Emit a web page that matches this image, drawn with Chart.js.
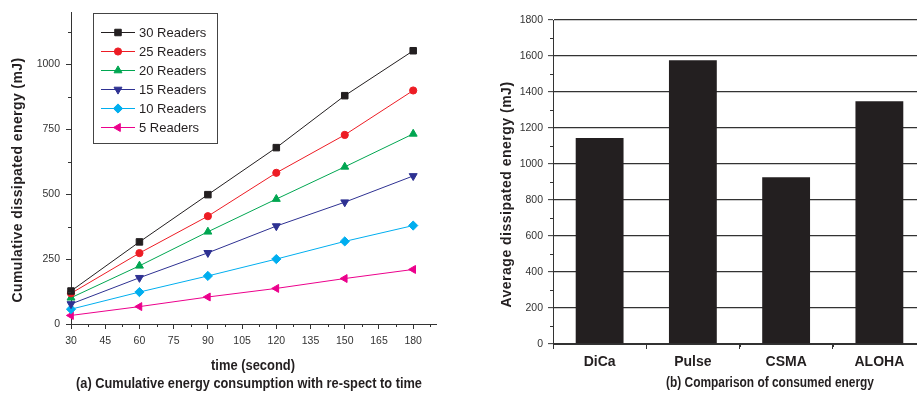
<!DOCTYPE html>
<html><head><meta charset="utf-8">
<script src="https://cdn.jsdelivr.net/npm/chart.js@4/dist/chart.umd.min.js"></script>
<style>
html,body{margin:0;padding:0;background:#fff;overflow:hidden;width:917px;height:396px;}
#wa{position:absolute;left:0;top:0;width:460px;height:396px;}
#wb{position:absolute;left:480px;top:0;width:460px;height:396px;}
</style></head><body>
<div id="wa"><canvas id="ca"></canvas></div>
<div id="wb"><canvas id="cb"></canvas></div>
<script>
// ---------- data (a) ----------
const TIMES = [30, 60, 90, 120, 150, 180];
const READERS_30 = [127, 316, 498, 679, 879, 1052];
const READERS_25 = [118, 273, 415, 582, 728, 899];
const READERS_20 = [101, 224, 355, 481, 605, 732];
const READERS_15 = [77, 178, 274, 377, 469, 570];
const READERS_10 = [57, 123, 185, 250, 318, 379];
const READERS_5  = [33, 67, 104, 137, 175, 210];
const SERIES_NAMES = ['30 Readers', '25 Readers', '20 Readers', '15 Readers', '10 Readers', '5 Readers'];
const X_TICKS_A = [30, 45, 60, 75, 90, 105, 120, 135, 150, 165, 180];
const X_MINOR_A = [37.5, 52.5, 67.5, 82.5, 97.5, 112.5, 127.5, 142.5, 157.5, 172.5, 187.5];
const Y_TICKS_A = [0, 250, 500, 750, 1000];
const Y_MINOR_A = [125, 375, 625, 875, 1125];
// ---------- data (b) ----------
const PROTOCOLS = ['DiCa', 'Pulse', 'CSMA', 'ALOHA'];
const AVG_ENERGY = [1144, 1576, 927, 1348];
const Y_TICKS_B = [0, 200, 400, 600, 800, 1000, 1200, 1400, 1600, 1800];
const Y_MINOR_B = [100, 300, 500, 700, 900, 1100, 1300, 1500, 1700];
const X_MINOR_B = [0.5, 1.5, 2.5];

const FONT = "'Liberation Sans', Arial, Helvetica, sans-serif";
Chart.defaults.font.family = FONT;
Chart.defaults.color = '#333';
const AX = '#333';
const plain = v => String(v);

function textsPlugin(id, items) {
  return { id: id, afterDraw(chart) {
    const ctx = chart.ctx;
    items.forEach(t => {
      ctx.save();
      ctx.font = t.font; ctx.fillStyle = t.color || '#231f20';
      ctx.textAlign = 'center'; ctx.textBaseline = 'middle';
      if ('letterSpacing' in ctx) ctx.letterSpacing = t.spacing || '0px';
      ctx.translate(t.x, t.y); if (t.rot) ctx.rotate(t.rot);
      if (t.maxWidth) ctx.fillText(t.text, 0, 0, t.maxWidth); else ctx.fillText(t.text, 0, 0);
      ctx.restore();
    });
  }};
}
function minorPlugin(id, axisId, values, len) {
  return { id: id, afterDraw(chart) {
    const s = chart.scales[axisId], ctx = chart.ctx;
    ctx.save(); ctx.strokeStyle = AX; ctx.lineWidth = 1; ctx.beginPath();
    values.forEach(v => {
      const p = Math.round(s.getPixelForValue(v)) + 0.5;
      if (s.isHorizontal()) { ctx.moveTo(p, s.top); ctx.lineTo(p, s.top + len); }
      else { ctx.moveTo(s.right, p); ctx.lineTo(s.right - len, p); }
    });
    ctx.stroke(); ctx.restore();
  }};
}
function drawMarker(ctx, style, rotation, r, x, y) {
  if (Chart.helpers && Chart.helpers.drawPoint) {
    Chart.helpers.drawPoint(ctx, {pointStyle: style, rotation: rotation, radius: r, borderWidth: 1}, x, y);
    return;
  }
  ctx.beginPath(); ctx.arc(x, y, r, 0, Math.PI * 2); ctx.fill(); ctx.stroke();
}
const legendPlugin = { id: 'boxLegend', afterDraw(chart) {
  const ctx = chart.ctx;
  ctx.save();
  ctx.fillStyle = '#fff';
  ctx.fillRect(93, 13, 125, 131);
  ctx.strokeStyle = '#444'; ctx.lineWidth = 1;
  ctx.strokeRect(93.5, 13.5, 124, 130);
  chart.data.datasets.forEach((ds, i) => {
    const y = 32 + 19 * i;
    ctx.strokeStyle = ds.borderColor; ctx.fillStyle = ds.borderColor; ctx.lineWidth = 1;
    ctx.beginPath(); ctx.moveTo(101, y + 0.5); ctx.lineTo(135, y + 0.5); ctx.stroke();
    drawMarker(ctx, ds.pointStyle, ds.pointRotation || 0, ds.pointRadius, 118, y + 0.5);
    ctx.fillStyle = '#231f20'; ctx.font = '13px ' + FONT;
    ctx.textAlign = 'left'; ctx.textBaseline = 'middle';
    ctx.fillText(ds.label, 139, y + 1);
  });
  ctx.restore();
}};

const SERIES = [READERS_30, READERS_25, READERS_20, READERS_15, READERS_10, READERS_5];
const COLORS = ['#231f20', '#ed1c24', '#00a651', '#2e3192', '#00aeef', '#ec008c'];
const STYLES = [['rect', 0, 4.6], ['circle', 0, 3.6], ['triangle', 0, 4.6], ['triangle', 180, 4.6], ['rectRot', 0, 4.6], ['triangle', 270, 4.6]];

new Chart(document.getElementById('ca'), {
  type: 'line',
  data: {
    datasets: SERIES.map((vals, i) => ({
      label: SERIES_NAMES[i],
      data: vals.map((v, j) => ({x: TIMES[j], y: v})),
      borderColor: COLORS[i], backgroundColor: COLORS[i],
      pointBackgroundColor: COLORS[i], pointBorderColor: COLORS[i],
      borderWidth: 1, pointBorderWidth: 1,
      pointStyle: STYLES[i][0], pointRotation: STYLES[i][1], pointRadius: STYLES[i][2],
      tension: 0, fill: false, clip: false
    }))
  },
  options: {
    responsive: true, maintainAspectRatio: false, animation: false, events: [],
    layout: {padding: {top: 8, right: 24, left: 0, bottom: 0}},
    plugins: {legend: {display: false}, tooltip: {enabled: false}},
    scales: {
      x: {
        type: 'linear', min: 30, max: 190,
        afterBuildTicks: s => { s.ticks = X_TICKS_A.map(v => ({value: v})); },
        afterFit: s => { s.height = 72; },
        grid: {drawOnChartArea: false, tickLength: 5, color: AX},
        border: {color: AX, width: 1},
        ticks: {font: {size: 10.5}, color: '#333', padding: 6, maxRotation: 0, autoSkip: false, callback: plain}
      },
      y: {
        type: 'linear', min: 0, max: 1200,
        afterBuildTicks: s => { s.ticks = Y_TICKS_A.map(v => ({value: v})); },
        afterFit: s => { s.width = 71; },
        grid: {drawOnChartArea: false, tickLength: 5, color: AX},
        border: {color: AX, width: 1},
        ticks: {font: {size: 10.5}, color: '#333', padding: 6, autoSkip: false, callback: plain}
      }
    }
  },
  plugins: [
    minorPlugin('minAx', 'x', X_MINOR_A, 3),
    minorPlugin('minAy', 'y', Y_MINOR_A, 3),
    legendPlugin,
    textsPlugin('txtA', [
      {text: 'Cumulative dissipated energy (mJ)', x: 18, y: 180, rot: -Math.PI / 2, font: 'bold 14px ' + FONT, spacing: '0.4px'},
      {text: 'time (second)', x: 253, y: 366, font: 'bold 14px ' + FONT, maxWidth: 84},
      {text: '(a) Cumulative energy consumption with re-spect to time', x: 249, y: 384, font: 'bold 14px ' + FONT, maxWidth: 346}
    ])
  ]
});

new Chart(document.getElementById('cb'), {
  type: 'bar',
  data: {
    labels: PROTOCOLS,
    datasets: [{
      data: AVG_ENERGY,
      backgroundColor: '#231f20', borderWidth: 0,
      barPercentage: 0.513, categoryPercentage: 1.0
    }]
  },
  options: {
    responsive: true, maintainAspectRatio: false, animation: false, events: [],
    layout: {padding: {top: 20, right: 14, left: 0, bottom: 0}},
    plugins: {legend: {display: false}, tooltip: {enabled: false}},
    scales: {
      x: {
        type: 'category',
        afterFit: s => { s.height = 52; },
        grid: {drawOnChartArea: false, tickLength: 5, color: AX},
        border: {color: AX, width: 1},
        ticks: {font: {size: 14, weight: 'bold'}, color: '#231f20', padding: 5, maxRotation: 0}
      },
      y: {
        type: 'linear', min: 0, max: 1800,
        afterBuildTicks: s => { s.ticks = Y_TICKS_B.map(v => ({value: v})); },
        afterFit: s => { s.width = 73; },
        grid: {color: '#333', lineWidth: 1.3, tickLength: 5, tickColor: AX, tickWidth: 1},
        border: {color: AX, width: 1},
        ticks: {font: {size: 10.5}, color: '#333', padding: 5, autoSkip: false, callback: plain}
      }
    }
  },
  plugins: [
    minorPlugin('minBy', 'y', Y_MINOR_B, 3),
    minorPlugin('minBx', 'x', X_MINOR_B, 3),
    textsPlugin('txtB', [
      {text: 'Average dissipated energy (mJ)', x: 27, y: 194.5, rot: -Math.PI / 2, font: 'bold 14px ' + FONT, spacing: '0.5px'},
      {text: '(b) Comparison of consumed energy', x: 290, y: 383, font: 'bold 14px ' + FONT, maxWidth: 208}
    ])
  ]
});
</script>
</body></html>
